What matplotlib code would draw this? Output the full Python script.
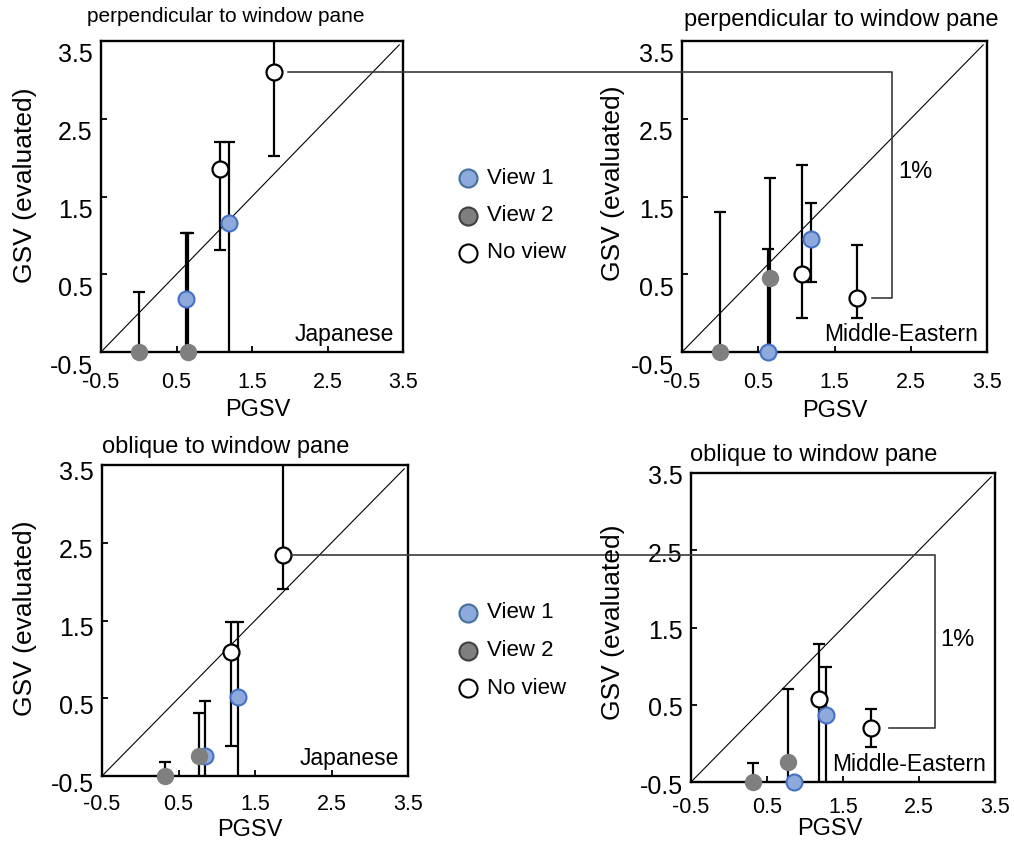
import numpy as np
import matplotlib
matplotlib.use('Agg')
import matplotlib.pyplot as plt
from matplotlib.lines import Line2D
from matplotlib.transforms import ScaledTranslation

plt.rcParams['font.family'] = ['Liberation Sans', 'DejaVu Sans']

W, H = 1014, 843

# order of points: View 1, View 1, View 2, View 2, No view, No view
cond = ['View 1', 'View 1', 'View 2', 'View 2', 'No view', 'No view']
perp_pgsv = [0.63, 1.19, 0.00, 0.65, 1.08, 1.79]
obl_pgsv = [0.85, 1.28, 0.32, 0.77, 1.18, 1.87]

# GSV (evaluated) with lower / upper ends of the error bars
jp_perp_gsv = [0.18, 1.16, -0.50, -0.50, 1.85, 3.10]
jp_perp_lo = [-0.70, -0.70, -0.50, -0.50, 0.81, 2.02]
jp_perp_hi = [1.03, 2.20, 0.27, 1.03, 2.20, 4.18]

me_perp_gsv = [-0.50, 0.95, -0.50, 0.45, 0.50, 0.20]
me_perp_lo = [-0.50, 0.40, -0.50, -0.70, -0.06, -0.06]
me_perp_hi = [0.83, 1.42, 1.30, 1.74, 1.91, 0.87]

jp_obl_gsv = [-0.24, 0.52, -0.50, -0.24, 1.10, 2.34]
jp_obl_lo = [-0.70, -0.70, -0.50, -0.70, -0.12, 1.91]
jp_obl_hi = [0.46, 1.48, -0.32, 0.31, 1.48, 3.70]

me_obl_gsv = [-0.50, 0.37, -0.50, -0.24, 0.57, 0.20]
me_obl_lo = [-0.50, -0.70, -0.50, -0.50, -0.70, -0.05]
me_obl_hi = [-0.50, 0.99, -0.25, 0.70, 1.28, 0.44]

ticks = [-0.5, 0.5, 1.5, 2.5, 3.5]

styles = {
    'View 1': dict(mfc='#8EA9DB', mec='#4472C4', mew=1.5),
    'View 2': dict(mfc='#7F7F7F', mec='#7F7F7F', mew=1.0),
    'No view': dict(mfc='white', mec='black', mew=1.6),
}


def fx(px):
    return px / W


def fy(py):
    return 1 - py / H


fig = plt.figure(figsize=(W / 100, H / 100), dpi=100)


def make_panel(rect, x, y, lo, hi, group_label, xpad, ydrop):
    ax = fig.add_axes(rect)
    ax.set_xlim(-0.5, 3.5)
    ax.set_ylim(-0.5, 3.5)
    ax.plot([-0.5, 3.45], [-0.5, 3.45], color='black', lw=0.8, zorder=1)
    x = np.array(x)
    y = np.array(y)
    lo = np.array(lo)
    hi = np.array(hi)
    ax.errorbar(x, y, yerr=[y - lo, hi - y], fmt='none', ecolor='black',
                elinewidth=1.6, capsize=4, capthick=1.6, zorder=2)
    for c in ['View 1', 'View 2', 'No view']:
        idx = [i for i, k in enumerate(cond) if k == c]
        ax.plot(x[idx], y[idx], 'o', ms=11.5, clip_on=False, zorder=4,
                **styles[c])
    ax.set_xticks(ticks)
    ax.set_yticks(ticks)
    ax.set_xticklabels(['%.1f' % t for t in ticks])
    ax.set_yticklabels(['%.1f' % t for t in ticks])
    ax.tick_params(direction='in', length=4, width=1.3, top=False, right=False)
    ax.tick_params(axis='x', pad=xpad, labelsize=15.5)
    ax.tick_params(axis='y', pad=6, labelsize=18)
    off = ScaledTranslation(0, -ydrop / 100, fig.dpi_scale_trans)
    for lab in ax.get_yticklabels():
        lab.set_transform(lab.get_transform() + off)
    for s in ax.spines.values():
        s.set_linewidth(1.7)
    ax.text(0.97, 0.02, group_label, transform=ax.transAxes, ha='right',
            va='bottom', fontsize=16.5)
    return ax


ax1 = make_panel([fx(101), fy(352), 302 / W, 311 / H], perp_pgsv,
                 jp_perp_gsv, jp_perp_lo, jp_perp_hi, 'Japanese', 14.5, 12)
ax2 = make_panel([fx(682), fy(352), 305 / W, 311 / H], perp_pgsv,
                 me_perp_gsv, me_perp_lo, me_perp_hi, 'Middle-Eastern', 14.5, 12)
ax3 = make_panel([fx(102), fy(776), 306 / W, 311 / H], obl_pgsv,
                 jp_obl_gsv, jp_obl_lo, jp_obl_hi, 'Japanese', 13, 6)
ax4 = make_panel([fx(691), fy(782), 304 / W, 309 / H], obl_pgsv,
                 me_obl_gsv, me_obl_lo, me_obl_hi, 'Middle-Eastern', 10.5, 2)

# titles and axis labels
fig.text(fx(226), fy(17), 'perpendicular to window pane', ha='center', va='center', fontsize=15)
fig.text(fx(841), fy(20), 'perpendicular to window pane', ha='center', va='center', fontsize=17)
fig.text(fx(226), fy(447), 'oblique to window pane', ha='center', va='center', fontsize=17)
fig.text(fx(814), fy(455), 'oblique to window pane', ha='center', va='center', fontsize=17)

for (px, py) in [(258, 410), (835, 411), (250, 830), (830, 829)]:
    fig.text(fx(px), fy(py), 'PGSV', ha='center', va='center', fontsize=17)
for (px, py) in [(25, 185), (613, 183), (25, 618), (613, 622)]:
    fig.text(fx(px), fy(py), 'GSV (evaluated)', ha='center', va='center',
             rotation=90, fontsize=19)

# legends
leg_face = {'View 1': ('#8EA9DB', '#41719C'), 'View 2': ('#7F7F7F', '#404040'),
            'No view': ('white', 'black')}
for y0 in [178, 613]:
    for i, c in enumerate(['View 1', 'View 2', 'No view']):
        yy = y0 + i * 37.5
        fc, ec = leg_face[c]
        fig.add_artist(Line2D([fx(468)], [fy(yy)], marker='o', ms=13, mfc=fc,
                              mec=ec, mew=1.5, transform=fig.transFigure))
        fig.text(fx(487), fy(yy), c, ha='left', va='center', fontsize=16)

# brackets linking the No view points
inv = fig.transFigure.inverted()


def bracket(ax_a, pa, ax_b, pb, xb, xtail, start_off):
    s = ax_a.transData.transform(pa)
    e = ax_b.transData.transform((xb, pa[1]))
    e[1] = s[1]
    b = ax_b.transData.transform((xb, pb[1]))
    t = ax_b.transData.transform((xtail, pb[1]))
    pts = np.array([[s[0] + start_off, s[1]], e, b, t])
    f = inv.transform(pts)
    fig.add_artist(Line2D(f[:, 0], f[:, 1], color='#3a3a3a', lw=1.2,
                          transform=fig.transFigure))


bracket(ax1, (perp_pgsv[5], jp_perp_gsv[5]), ax2, (perp_pgsv[5], me_perp_gsv[5]),
        2.26, 1.99, 14)
bracket(ax3, (obl_pgsv[5], jp_obl_gsv[5]), ax4, (obl_pgsv[5], me_obl_gsv[5]),
        2.71, 2.11, 9)
fig.text(fx(915), fy(172), '1%', ha='center', va='center', fontsize=17)
fig.text(fx(957), fy(640), '1%', ha='center', va='center', fontsize=17)

fig.savefig('out.png', dpi=100)
